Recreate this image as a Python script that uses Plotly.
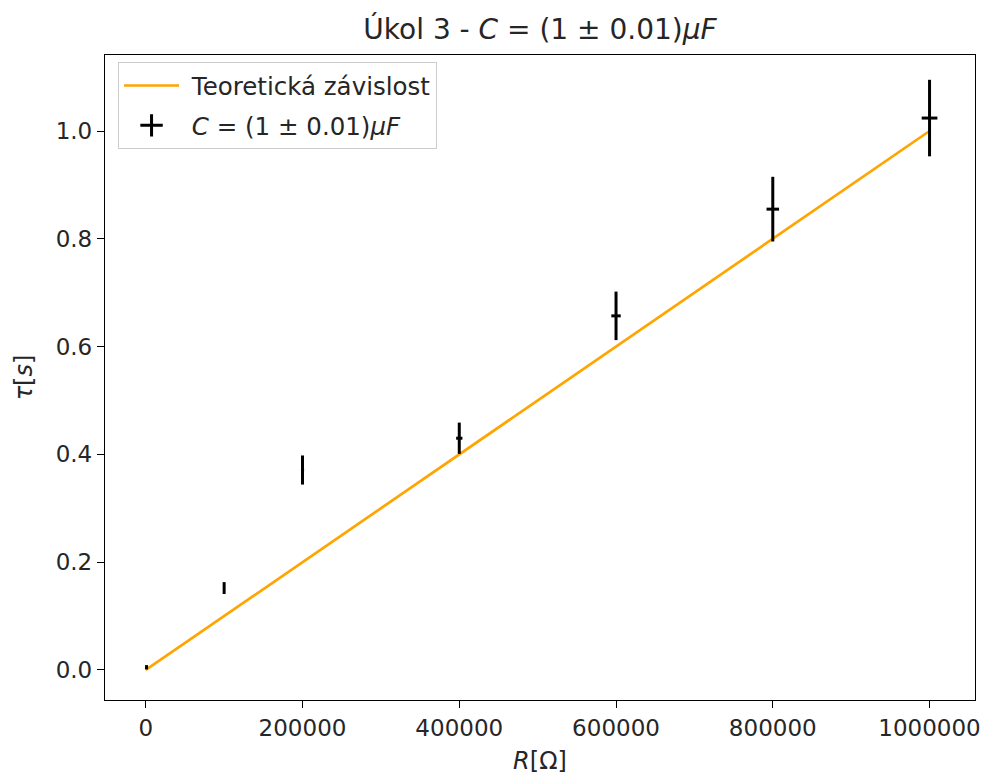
import plotly.graph_objects as go

# Data
R_values = [1000, 100000, 200000, 400000, 600000, 800000, 1000000]
tau_values = [0.005, 0.152, 0.371, 0.430, 0.657, 0.855, 1.024]
tau_errors = [0.004, 0.011, 0.027, 0.029, 0.045, 0.060, 0.071]
R_errors = [10, 1000, 2000, 4000, 6000, 8000, 10000]
theory_R = [0, 1000000]
theory_tau = [0.0, 1.0]
x_ticks = [0, 200000, 400000, 600000, 800000, 1000000]
y_ticks = [0.0, 0.2, 0.4, 0.6, 0.8, 1.0]

FONT = "DejaVu Sans"
TXT = "#262626"

fig = go.Figure()
fig.add_trace(go.Scatter(
    x=theory_R, y=theory_tau, mode="lines",
    line=dict(color="#FFA500", width=2.7),
    name="&nbsp;Teoretická závislost", legendgroup="a",
))
fig.add_trace(go.Scatter(
    x=R_values, y=tau_values, mode="markers",
    marker=dict(size=1, color="black"),
    error_y=dict(type="data", array=tau_errors, color="black", thickness=3, width=0),
    error_x=dict(type="data", array=R_errors, color="black", thickness=3, width=0),
    showlegend=False,
))
fig.add_trace(go.Scatter(
    x=[None], y=[None], mode="markers",
    marker=dict(symbol="cross-thin-open", size=20, color="black", line=dict(width=3, color="black")),
    name="&nbsp;<i>C</i> = (1 ± 0.01)<i>μF</i>", legendgroup="b",
))

axis_common = dict(
    showgrid=False, zeroline=False, showline=True, mirror=True,
    linecolor="black", linewidth=1.3, ticks="outside", ticklen=7,
    tickwidth=1.3, tickcolor="black", automargin=False,
    tickfont=dict(family=FONT, size=23, color=TXT),
)
fig.update_xaxes(
    range=[-52000, 1058000], tickvals=x_ticks,
    ticktext=[str(v) for v in x_ticks],
    title=dict(text="<i>R</i>[Ω]", font=dict(family=FONT, size=24, color=TXT), standoff=12),
    **axis_common,
)
fig.update_yaxes(
    range=[-0.0557, 1.141], tickvals=y_ticks,
    ticktext=[f"{v:.1f}" for v in y_ticks],
    title=dict(text="<i>τ</i>[<i>s</i>]", font=dict(family=FONT, size=24, color=TXT), standoff=16),
    **axis_common,
)
fig.update_layout(
    width=985, height=780,
    margin=dict(l=105, r=10, t=55, b=80),
    paper_bgcolor="white", plot_bgcolor="white",
    title=dict(text="Úkol 3 - <i>C</i> = (1 ± 0.01)<i>μF</i>",
               font=dict(family=FONT, size=28, color=TXT),
               x=0.5, xref="paper", xanchor="center", y=0.962, yanchor="middle"),
    legend=dict(x=0.015, y=0.989, xanchor="left", yanchor="top",
                bgcolor="rgba(255,255,255,0.8)", bordercolor="#cccccc", borderwidth=1,
                font=dict(family=FONT, size=24.5, color=TXT),
                itemwidth=55,
                traceorder="grouped", tracegroupgap=5),
    font=dict(family=FONT),
)
fig.write_html(
    "out.html",
    config={"displayModeBar": False},
    post_script="document.body.style.margin='0';document.body.style.overflow='hidden';",
)
